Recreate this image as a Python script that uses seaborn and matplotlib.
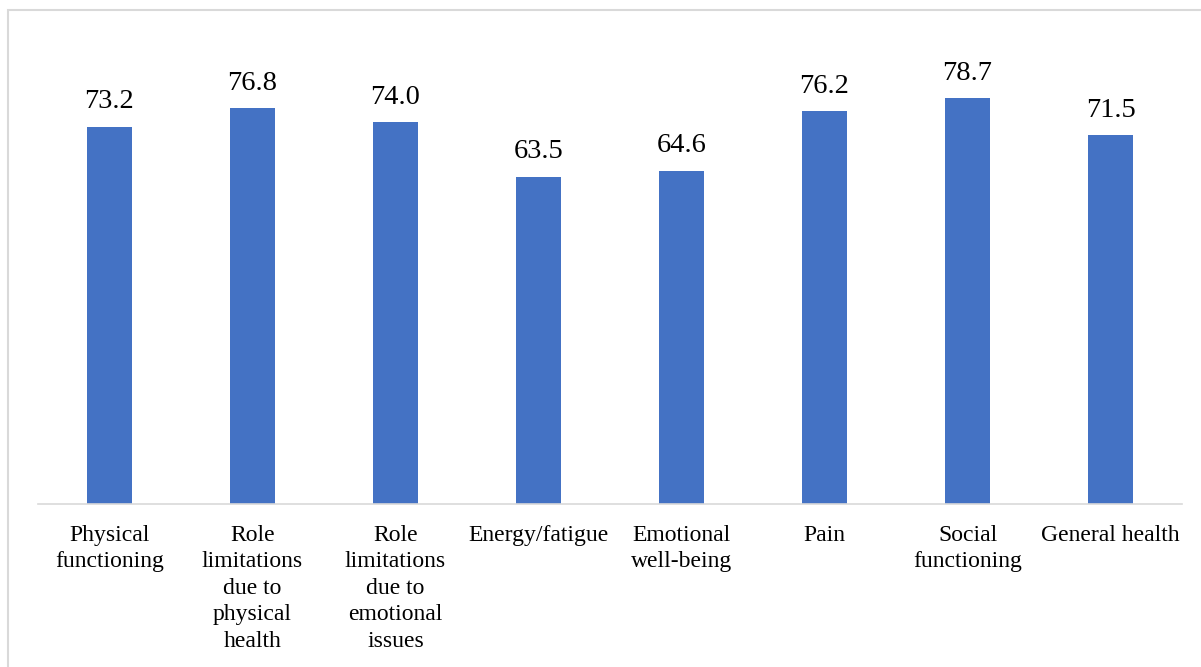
import matplotlib
matplotlib.use("Agg")
import matplotlib.pyplot as plt
import seaborn as sns
import pandas as pd
from matplotlib.patches import Rectangle

categories = ["Physical\nfunctioning",
              "Role\nlimitations\ndue to\nphysical\nhealth",
              "Role\nlimitations\ndue to\nemotional\nissues",
              "Energy/fatigue",
              "Emotional\nwell-being",
              "Pain",
              "Social\nfunctioning",
              "General health"]
values = [73.2, 76.8, 74.0, 63.5, 64.6, 76.2, 78.7, 71.5]

sns.set_theme(style="white")
plt.rcParams['font.family'] = ['Liberation Serif', 'DejaVu Serif']

df = pd.DataFrame({"cat": categories, "val": values})

fig = plt.figure(figsize=(12.01, 6.67), dpi=100)
ax = fig.add_axes([38/1201, 1 - 504/667, (1182-38)/1201, (504-40)/667])

sns.barplot(data=df, x="cat", y="val", color="#4472C4", saturation=1,
            width=0.31, ax=ax, edgecolor="none")

ax.set_ylim(0, 90)
ax.set_xlim(-0.5, len(categories) - 0.5)
ax.set_xlabel("")
ax.set_ylabel("")
ax.set_yticks([])
for s in ["top", "right", "left"]:
    ax.spines[s].set_visible(False)
ax.spines["bottom"].set_color("#d9d9d9")
ax.spines["bottom"].set_linewidth(1.2)
ax.tick_params(axis="x", length=0, pad=15, labelsize=17, colors="black")
for lbl in ax.get_xticklabels():
    lbl.set_linespacing(1.34)

for i, v in enumerate(values):
    ax.annotate(f"{v:.1f}", (i, v), xytext=(0, 9), textcoords="offset points",
                ha="center", va="bottom", fontsize=20.5, color="black")

fig.patches.append(Rectangle((8/1201, -0.1), 1.2, 1 - 10/667 + 0.1,
                             transform=fig.transFigure, fill=False,
                             edgecolor="#d9d9d9", linewidth=1.5))

fig.savefig("out.png", dpi=100, facecolor="white")
